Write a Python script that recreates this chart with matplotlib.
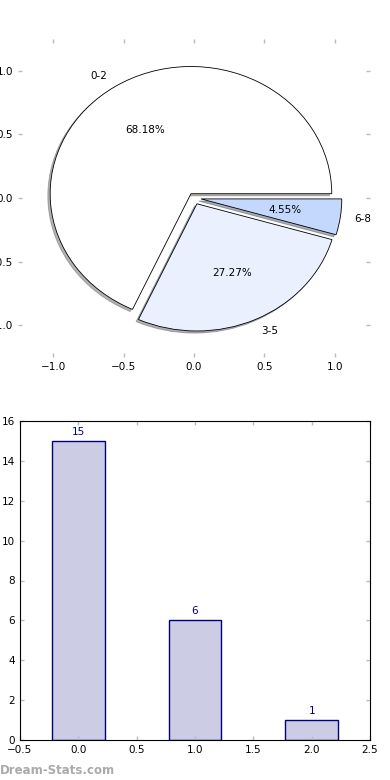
import matplotlib
matplotlib.use('Agg')
import matplotlib.pyplot as plt

labels = ['0-2', '3-5', '6-8']
counts = [15, 6, 1]
positions = [0, 1, 2]
pie_colors = ['#ffffff', '#eaf0fe', '#c4d8fe']
explode = [0.04, 0.05, 0.05]

plt.rcParams['font.size'] = 7.5
plt.rcParams['xtick.direction'] = 'in'
plt.rcParams['ytick.direction'] = 'in'
plt.rcParams['xtick.top'] = True
plt.rcParams['ytick.right'] = True

fig = plt.figure(figsize=(3.9, 7.8), dpi=100)

# pie
ax1 = fig.add_axes([18/390, 1-357/780, 352/390, 318/780])
ax1.pie(counts, labels=labels, colors=pie_colors, explode=explode,
        autopct='%1.2f%%', shadow={'ox': -0.012, 'oy': -0.012, 'shade': 0.6},
        startangle=0,
        wedgeprops={'edgecolor': 'black', 'linewidth': 0.6},
        frame=True)
ax1.set_aspect('auto')
ax1.set_xlim(-1.25, 1.25)
ax1.set_ylim(-1.25, 1.25)
ax1.set_xticks([-1.0, -0.5, 0.0, 0.5, 1.0])
ax1.set_yticks([-1.0, -0.5, 0.0, 0.5, 1.0])
for s in ax1.spines.values():
    s.set_visible(False)
ax1.tick_params(color='#bbbbbb', length=3, width=1)

# bars
ax2 = fig.add_axes([20/390, 1-740/780, 350/390, 319/780])
bars = ax2.bar(positions, counts, width=0.45, color='#ccccE5', edgecolor='#000080', linewidth=1)
for b, v in zip(bars, counts):
    ax2.text(b.get_x() + b.get_width()/2, v + 0.2, str(v), ha='center', va='bottom',
             color='#000080')
ax2.set_xlim(-0.5, 2.5)
ax2.set_ylim(0, 16)
ax2.set_xticks([-0.5, 0.0, 0.5, 1.0, 1.5, 2.0, 2.5])
ax2.set_yticks(range(0, 17, 2))
ax2.tick_params(color='#bbbbbb', length=3, width=1)

fig.text(0.0, 1-771/780, 'Dream-Stats.com', color='#aaaaaa', fontsize=8.5,
         fontweight='bold', va='center', ha='left')

fig.savefig('out.png', dpi=100)
